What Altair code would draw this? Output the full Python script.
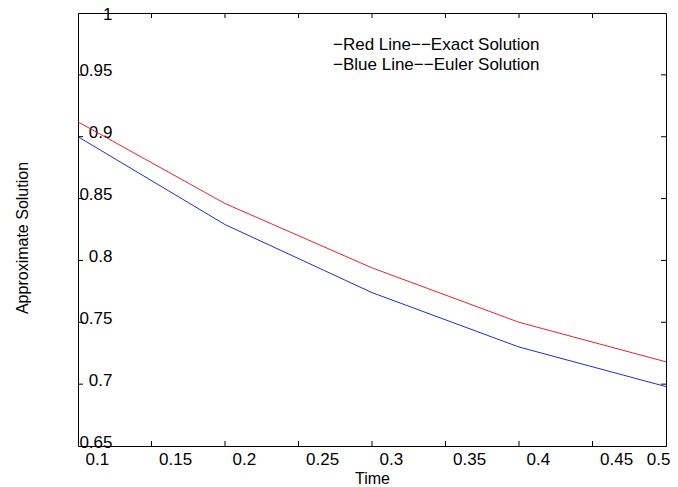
import altair as alt
import pandas as pd

# data
time = [0.1, 0.2, 0.3, 0.4, 0.5]
exact = [0.912, 0.846, 0.794, 0.750, 0.718]
euler = [0.900, 0.829, 0.774, 0.730, 0.698]
series_names = ["Exact Solution", "Euler Solution"]
x_ticks = [0.1, 0.15, 0.2, 0.25, 0.3, 0.35, 0.4, 0.45, 0.5]
y_ticks = [0.65, 0.7, 0.75, 0.8, 0.85, 0.9, 0.95, 1.0]
inner_x_ticks = [0.15, 0.2, 0.25, 0.3, 0.35, 0.4, 0.45]
inner_y_ticks = [0.7, 0.75, 0.8, 0.85, 0.9, 0.95]
legend_lines = ["\u2212Red Line\u2212\u2212Exact Solution",
                "\u2212Blue Line\u2212\u2212Euler Solution"]

W, H = 588, 433
FONT = "Liberation Sans"

df = pd.DataFrame({
    "Time": time + time,
    "value": exact + euler,
    "series": [series_names[0]] * len(time) + [series_names[1]] * len(time),
})

xs = alt.Scale(domain=[0.1, 0.5], nice=False, zero=False)
ys = alt.Scale(domain=[0.65, 1.0], nice=False, zero=False)

x_axis = alt.Axis(
    values=x_ticks, format="~g", title="Time", domain=False, ticks=False,
    grid=False, labelFlush=False, labelOverlap=False,
    labelAlign={"condition": {"test": "datum.value >= 0.5", "value": "right"}, "value": "left"},
    labelOffset={"condition": {"test": "datum.value >= 0.5", "value": 4}, "value": 7},
    labelPadding=5, labelFontSize=17,
    titleFontSize=16, titleFontWeight="normal", titleX=294, titleY=32,
    titleBaseline="middle")
y_axis = alt.Axis(
    values=y_ticks, format="~g", title="Approximate Solution", domain=False,
    ticks=False, grid=False, labelAlign="right", labelPadding=-34,
    labelOffset={"condition": {"test": "datum.value >= 1", "value": 1}, "value": -4},
    labelFlush=False, labelOverlap=False, labelBaseline="middle",
    labelFontSize=17, titleFontSize=16, titleFontWeight="normal",
    titleX=-56, titleY=224.5, titleBaseline="middle")

lines = alt.Chart(df).mark_line(strokeWidth=1).encode(
    x=alt.X("Time:Q", scale=xs, axis=x_axis),
    y=alt.Y("value:Q", scale=ys, axis=y_axis),
    color=alt.Color("series:N", scale=alt.Scale(domain=series_names,
                    range=["#e0282f", "#2a2ad0"]), legend=None),
)

xt = pd.DataFrame({"Time": inner_x_ticks})
yt = pd.DataFrame({"value": inner_y_ticks})

bottom_ticks = alt.Chart(xt).mark_rule(color="black", strokeWidth=1).encode(
    x=alt.X("Time:Q", scale=xs, axis=x_axis), y=alt.value(H), y2=alt.value(H - 5))
top_ticks = alt.Chart(xt).mark_rule(color="black", strokeWidth=1).encode(
    x=alt.X("Time:Q", scale=xs, axis=x_axis), y=alt.value(0), y2=alt.value(5))
left_ticks = alt.Chart(yt).mark_rule(color="black", strokeWidth=1).encode(
    y=alt.Y("value:Q", scale=ys, axis=y_axis), x=alt.value(0), x2=alt.value(5))
right_ticks = alt.Chart(yt).mark_rule(color="black", strokeWidth=1).encode(
    y=alt.Y("value:Q", scale=ys, axis=y_axis), x=alt.value(W), x2=alt.value(W - 5))

legend_text = alt.Chart(pd.DataFrame({"label": ["\n".join(legend_lines)]})).mark_text(
    align="left", baseline="middle", lineBreak="\n", lineHeight=20,
    fontSize=17, font=FONT, color="black",
).encode(text="label:N", x=alt.value(255), y=alt.value(32))

chart = alt.layer(
    lines, bottom_ticks, top_ticks, left_ticks, right_ticks, legend_text
).properties(
    width=W, height=H,
    autosize=alt.AutoSizeParams(type="none"),
    padding={"left": 70, "top": 5, "right": 4, "bottom": 40},
).configure_view(
    stroke="black", strokeWidth=1
).configure_axis(
    labelFont=FONT, titleFont=FONT, labelColor="black", titleColor="black",
)

chart.save("out.html", embed_options={"renderer": "svg", "actions": False})
